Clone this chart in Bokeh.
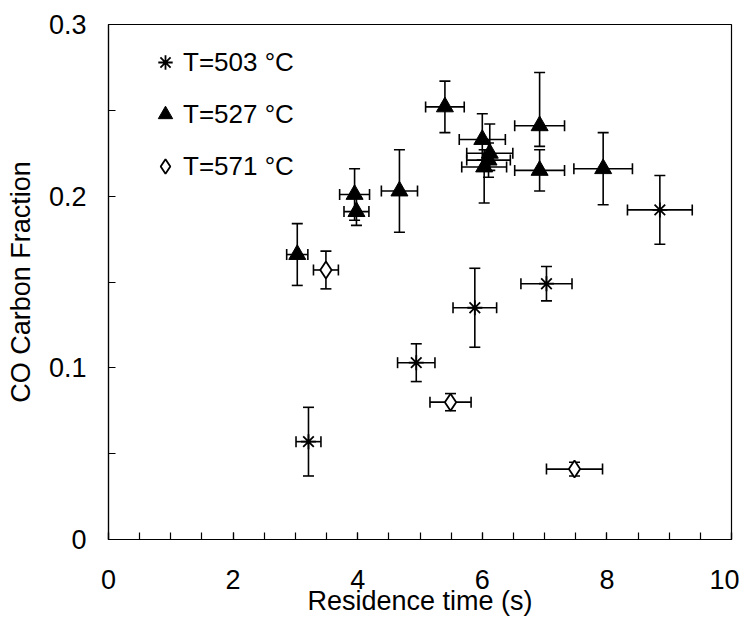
from bokeh.plotting import figure
from bokeh.models import (ColumnDataSource, Whisker, TeeHead, FixedTicker, Legend, LegendItem, Range1d)
from bokeh.embed import file_html
from bokeh.resources import INLINE

# ---- data ----
t503_x = [3.21, 4.94, 5.88, 7.03, 8.85]
t503_y = [0.057, 0.103, 0.135, 0.149, 0.192]
t503_yerr = [0.020, 0.011, 0.023, 0.010, 0.020]
t503_xerr = [0.20, 0.30, 0.35, 0.41, 0.52]

t527_x = [3.03, 3.95, 3.98, 4.67, 5.40, 6.00, 6.12, 6.10, 6.03, 6.92, 6.92, 7.94]
t527_y = [0.166, 0.201, 0.191, 0.203, 0.252, 0.233, 0.225, 0.221, 0.217, 0.241, 0.215, 0.216]
t527_yerr_lo = [0.018, 0.015, 0.008, 0.024, 0.015, 0.012, 0.010, 0.010, 0.021, 0.012, 0.012, 0.021]
t527_yerr_hi = [0.018, 0.015, 0.008, 0.024, 0.015, 0.015, 0.017, 0.010, 0.010, 0.031, 0.012, 0.021]
t527_xerr = [0.17, 0.24, 0.20, 0.29, 0.31, 0.37, 0.37, 0.35, 0.36, 0.40, 0.40, 0.47]

t571_x = [3.49, 5.49, 7.48]
t571_y = [0.157, 0.080, 0.041]
t571_yerr = [0.011, 0.005, 0.004]
t571_xerr = [0.20, 0.33, 0.45]

labels = ["T=503 °C", "T=527 °C", "T=571 °C"]
x_ticks = [0, 2, 4, 6, 8, 10]
x_minor = [i * 0.5 for i in range(21)]
y_ticks = [0, 0.1, 0.2, 0.3]
y_minor = [0.05, 0.15, 0.25]

FONT = "Liberation Sans"
BLACK = "#000000"

p = figure(output_backend="svg", toolbar_location=None,
           frame_width=623, frame_height=515,
           min_border_left=108, min_border_top=24, min_border_right=8, min_border_bottom=82,
           x_range=Range1d(0, 10), y_range=Range1d(0, 0.3))
p.background_fill_color = "white"
p.border_fill_color = "white"
p.outline_line_color = BLACK
p.outline_line_width = 1.2
p.grid.visible = False


def make_source(xs, ys, xlo, xhi, ylo, yhi):
    return ColumnDataSource(dict(
        x=xs, y=ys,
        xl=[a - b for a, b in zip(xs, xlo)], xu=[a + b for a, b in zip(xs, xhi)],
        yl=[a - b for a, b in zip(ys, ylo)], yu=[a + b for a, b in zip(ys, yhi)],
    ))


src503 = make_source(t503_x, t503_y, t503_xerr, t503_xerr, t503_yerr, t503_yerr)
src527 = make_source(t527_x, t527_y, t527_xerr, t527_xerr, t527_yerr_lo, t527_yerr_hi)
src571 = make_source(t571_x, t571_y, t571_xerr, t571_xerr, t571_yerr, t571_yerr)

for src in (src503, src527, src571):
    p.add_layout(Whisker(source=src, base="x", lower="yl", upper="yu", dimension="height",
                         line_color=BLACK, line_width=1.6,
                         upper_head=TeeHead(size=11, line_width=1.6, line_color=BLACK),
                         lower_head=TeeHead(size=11, line_width=1.6, line_color=BLACK)))
    p.add_layout(Whisker(source=src, base="y", lower="xl", upper="xu", dimension="width",
                         line_color=BLACK, line_width=1.6,
                         upper_head=TeeHead(size=11, line_width=1.6, line_color=BLACK),
                         lower_head=TeeHead(size=11, line_width=1.6, line_color=BLACK)))

r503 = p.scatter("x", "y", source=src503, marker="asterisk", size=15,
                 line_color=BLACK, line_width=1.8)
r527 = p.scatter("x", "y", source=src527, marker="triangle", size=17,
                 line_color=BLACK, fill_color=BLACK, line_width=1)
r571 = p.scatter("x", "y", source=src571, marker="diamond", size=17,
                 line_color=BLACK, fill_color="white", line_width=1.8)

legend = Legend(items=[LegendItem(label=labels[0], renderers=[r503]),
                       LegendItem(label=labels[1], renderers=[r527]),
                       LegendItem(label=labels[2], renderers=[r571])],
                location=(39, 355), glyph_width=36, glyph_height=36, label_height=36,
                spacing=16, padding=0, margin=0, label_standoff=-13,
                border_line_color=None, background_fill_alpha=0,
                label_text_font=FONT, label_text_font_size="26px", label_text_color=BLACK)
p.add_layout(legend)

p.xaxis.ticker = FixedTicker(ticks=x_ticks, minor_ticks=x_minor)
p.yaxis.ticker = FixedTicker(ticks=y_ticks, minor_ticks=y_minor)
p.yaxis.major_label_overrides = {0: "0", 0.1: "0.1", 0.2: "0.2", 0.3: "0.3"}

for ax in (p.xaxis[0], p.yaxis[0]):
    ax.axis_line_color = BLACK
    ax.axis_line_width = 1.2
    ax.major_tick_in = 7
    ax.major_tick_out = 0
    ax.minor_tick_in = 7
    ax.minor_tick_out = 0
    ax.major_tick_line_color = BLACK
    ax.minor_tick_line_color = BLACK
    ax.major_tick_line_width = 1.2
    ax.minor_tick_line_width = 1.2
    ax.major_label_text_font = FONT
    ax.major_label_text_font_size = "27px"
    ax.major_label_text_color = BLACK
    ax.axis_label_text_font = FONT
    ax.axis_label_text_font_size = "27px"
    ax.axis_label_text_font_style = "normal"
    ax.axis_label_text_color = BLACK

p.xaxis.axis_label = "Residence time (s)"
p.yaxis.axis_label = "CO Carbon Fraction"
p.xaxis.major_label_standoff = 30
p.xaxis.axis_label_standoff = -6
p.yaxis.major_label_standoff = 22
p.yaxis.axis_label_standoff = 10

open("out.html", "w").write(file_html(p, INLINE))
